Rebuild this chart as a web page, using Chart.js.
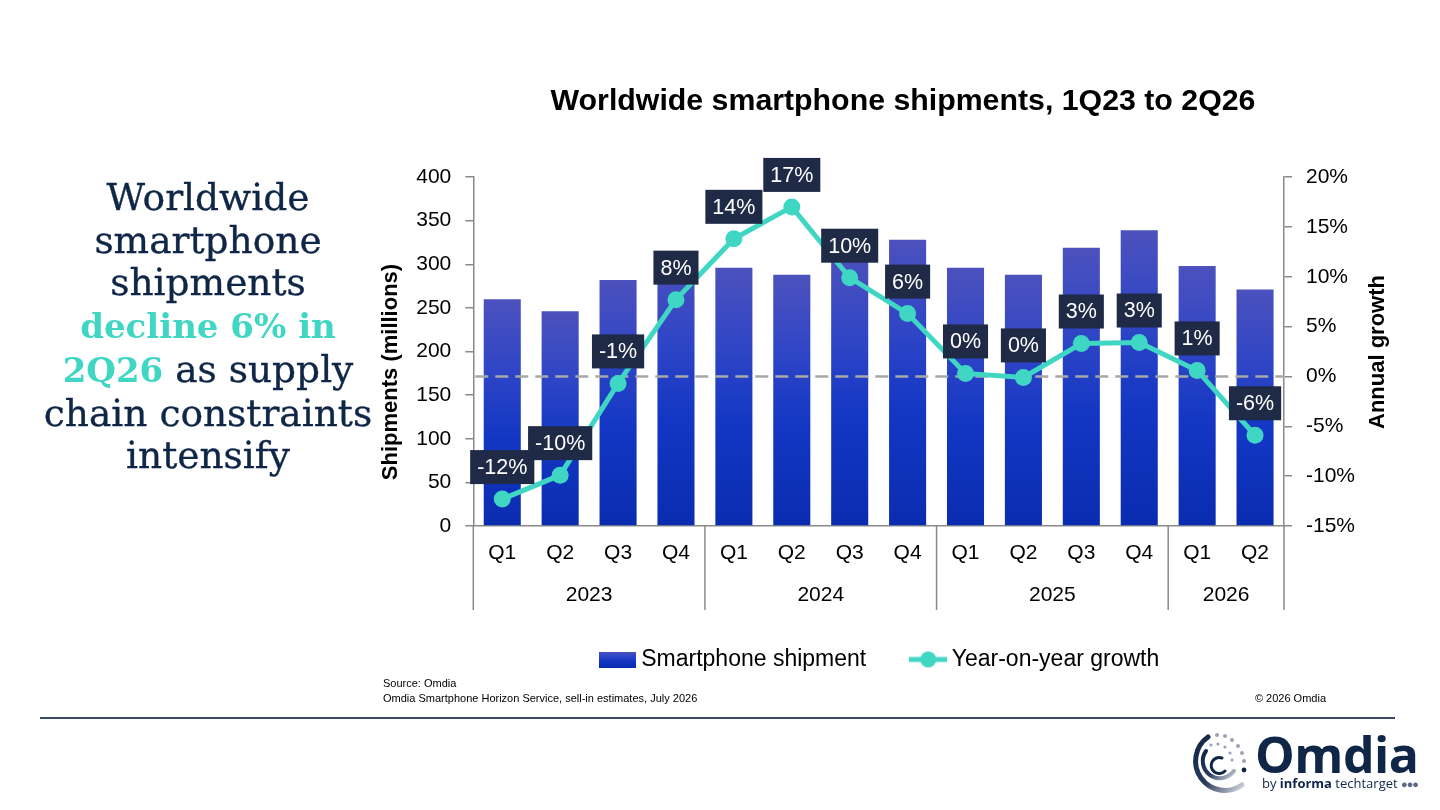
<!DOCTYPE html>
<html>
<head>
<meta charset="utf-8">
<title>Worldwide smartphone shipments, 1Q23 to 2Q26</title>
<script src="https://cdn.jsdelivr.net/npm/chart.js@4.4.1/dist/chart.umd.min.js"></script>
<style>
  html, body { margin:0; padding:0; background:#ffffff; width:1440px; height:810px; overflow:hidden; }
  body { position:relative; font-family:"Liberation Sans", Arial, sans-serif; }
  #chartBox { position:absolute; left:0; top:0; width:1440px; height:810px; }
  #title { position:absolute; left:503px; top:82px; width:800px; text-align:center; font-weight:bold; font-size:30.3px; line-height:36px; color:#000; }
  #headline { position:absolute; left:8px; top:176px; width:400px; text-align:center; font-family:"DejaVu Serif", serif; font-size:37.5px; line-height:42.7px; color:#0f2647; -webkit-text-stroke:0.35px #0f2647; }
  #headline .hl { color:#3fd6c4; font-weight:bold; font-size:34px; -webkit-text-stroke:0; }
  .src { position:absolute; font-size:11px; color:#000; line-height:14px; }
  #rule { position:absolute; left:40px; top:717px; width:1355px; height:2px; background:#3b4a68; }
  #logoText { position:absolute; left:1255px; top:724px; font-family:"Open Sans", sans-serif; font-weight:700; font-size:50px; line-height:60px; color:#0f2647; letter-spacing:-0.5px; }
  #logoSub { position:absolute; left:1262px; top:775px; font-family:"Open Sans", sans-serif; font-size:13px; line-height:16px; color:#0f2647; white-space:nowrap; }
  #logoSub b { font-weight:700; }
  #logoSub .dots { color:#5a6b8a; font-size:11px; letter-spacing:-1px; }
</style>
</head>
<body>
<div id="chartBox"><canvas id="c" width="1440" height="810"></canvas></div>

<div id="title">Worldwide smartphone shipments, 1Q23 to 2Q26</div>

<div id="headline">Worldwide<br>smartphone<br>shipments<br><span class="hl">decline 6% in<br>2Q26</span> as supply<br>chain constraints<br>intensify</div>

<div class="src" style="left:383px; top:676px;">Source: Omdia</div>
<div class="src" style="left:383px; top:691px;">Omdia Smartphone Horizon Service, sell-in estimates, July 2026</div>
<div class="src" style="left:1126px; top:691px; width:200px; text-align:right;">© 2026 Omdia</div>
<div id="rule"></div>

<svg style="position:absolute; left:1184px; top:731px;" width="70" height="68" viewBox="0 0 70 68">
  <defs>
    <linearGradient id="ringGrad" x1="0" y1="0" x2="1" y2="1">
      <stop offset="0" stop-color="#0f2647"/>
      <stop offset="0.55" stop-color="#2a3d5e"/>
      <stop offset="1" stop-color="#d4d8e0"/>
    </linearGradient>
  </defs>
  <path d="M 24 6 A 29 29 0 1 0 58 54" fill="none" stroke="url(#ringGrad)" stroke-width="5" stroke-linecap="round"/>
  <path d="M 22 20 A 16 16 0 1 0 50 40" fill="none" stroke="url(#ringGrad)" stroke-width="4" stroke-linecap="round"/>
  <path d="M 38 27 A 8 8 0 1 0 41 40" fill="none" stroke="#0f2647" stroke-width="3" stroke-linecap="round"/>
  <g fill="#9aa3b5">
    <circle cx="33" cy="4" r="2"/><circle cx="41" cy="5" r="2"/><circle cx="48" cy="9" r="2"/>
    <circle cx="54" cy="15" r="2"/><circle cx="58" cy="22" r="2"/><circle cx="60" cy="30" r="2"/>
    <circle cx="27" cy="14" r="1.6"/><circle cx="34" cy="13" r="1.6"/><circle cx="41" cy="16" r="1.6"/>
    <circle cx="46" cy="22" r="1.6"/><circle cx="48" cy="29" r="1.6"/>
  </g>
  <circle cx="60" cy="39" r="2.4" fill="#0f2647"/>
</svg>
<div id="logoText">Omdia</div>
<div id="logoSub">by <b>informa</b> techtarget <span class="dots">●●●</span></div>

<script>
// ---------------- data ----------------
const quarters = ['Q1','Q2','Q3','Q4','Q1','Q2','Q3','Q4','Q1','Q2','Q3','Q4','Q1','Q2'];
const years = ['2023','2024','2025','2026'];
const quartersPerYear = [4, 4, 4, 2];
const shipments = [260, 246, 282, 309, 296, 288, 310, 328, 296, 288, 319, 339, 298, 271];
const growth = [-12.3, -9.9, -0.7, 7.7, 13.8, 17.0, 9.9, 6.3, 0.3, -0.1, 3.3, 3.4, 0.6, -5.9];
const shipmentAxis = { min: 0, max: 400, step: 50 };
const growthAxis = { min: -15, max: 20, step: 5 };
const seriesNames = ['Smartphone shipment', 'Year-on-year growth'];
const axisTitles = ['Shipments (millions)', 'Annual growth'];

// ---------------- styles ----------------
const FONT = '"Liberation Sans", Arial, sans-serif';
const TEAL = '#3fd6c4';
const LABEL_BG = '#1f2b46';
const AXIS_GRAY = '#8a8a8a';

Chart.defaults.font.family = FONT;
Chart.defaults.color = '#000';

function barGradient(g) {
  g.addColorStop(0, '#4c51bd');
  g.addColorStop(0.3, '#3046c6');
  g.addColorStop(0.6, '#1337c4');
  g.addColorStop(1, '#0a2cb0');
  return g;
}

// legend swatches
const barSwatch = document.createElement('canvas');
barSwatch.width = 37; barSwatch.height = 16;
(function(){ const c = barSwatch.getContext('2d'); c.fillStyle = barGradient(c.createLinearGradient(0,0,0,16)); c.fillRect(0,0,37,16); })();
const lineSwatch = document.createElement('canvas');
lineSwatch.width = 38; lineSwatch.height = 18;
(function(){ const c = lineSwatch.getContext('2d'); c.strokeStyle = TEAL; c.lineWidth = 5; c.beginPath(); c.moveTo(0,9); c.lineTo(38,9); c.stroke(); c.fillStyle = TEAL; c.beginPath(); c.arc(19,9,8,0,Math.PI*2); c.fill(); })();

// zero reference line (above bars, below growth line)
const zeroLine = {
  id: 'zeroLine',
  afterDatasetDraw(chart, args) {
    if (args.index !== 0) return;
    const { ctx, chartArea, scales } = chart;
    const y = scales.y1.getPixelForValue(0);
    ctx.save();
    ctx.strokeStyle = '#a8a8a8';
    ctx.lineWidth = 2.5;
    ctx.setLineDash([13, 7]);
    ctx.beginPath();
    ctx.moveTo(chartArea.left + 2, y);
    ctx.lineTo(chartArea.right, y);
    ctx.stroke();
    ctx.restore();
  }
};

// growth value labels
const growthLabels = {
  id: 'growthLabels',
  afterDatasetsDraw(chart) {
    const { ctx } = chart;
    const meta = chart.getDatasetMeta(1);
    ctx.save();
    ctx.font = '21.5px ' + FONT;
    ctx.textAlign = 'center';
    ctx.textBaseline = 'middle';
    meta.data.forEach((pt, i) => {
      const txt = (Math.round(growth[i]) + 0) + '%';
      const w = ctx.measureText(txt).width + 14;
      const h = 34;
      const cx = pt.x, cy = pt.y - 32;
      ctx.fillStyle = LABEL_BG;
      ctx.fillRect(cx - w / 2, cy - h / 2, w, h);
      ctx.fillStyle = '#ffffff';
      ctx.fillText(txt, cx, cy + 1);
    });
    ctx.restore();
  }
};

// year groups, separators and axis titles
const axisExtras = {
  id: 'axisExtras',
  afterDraw(chart) {
    const { ctx, chartArea, scales } = chart;
    const x = scales.x;
    const step = x.getPixelForValue(1) - x.getPixelForValue(0);
    ctx.save();
    ctx.strokeStyle = AXIS_GRAY;
    ctx.lineWidth = 1.5;
    ctx.font = '21px ' + FONT;
    ctx.fillStyle = '#000';
    ctx.textAlign = 'center';
    ctx.textBaseline = 'middle';
    let start = 0;
    const bounds = [x.getPixelForValue(0) - step / 2];
    quartersPerYear.forEach((n, k) => {
      const x0 = x.getPixelForValue(start) - step / 2;
      const x1 = x.getPixelForValue(start + n - 1) + step / 2;
      bounds.push(x1);
      ctx.fillText(years[k], (x0 + x1) / 2, chartArea.bottom + 69);
      start += n;
    });
    bounds.forEach(bx => {
      ctx.beginPath();
      ctx.moveTo(bx, chartArea.bottom);
      ctx.lineTo(bx, chartArea.bottom + 84);
      ctx.stroke();
    });
    // axis titles
    ctx.font = 'bold 22px ' + FONT;
    ctx.save();
    ctx.translate(391, 372);
    ctx.rotate(-Math.PI / 2);
    ctx.fillText(axisTitles[0], 0, 0);
    ctx.restore();
    ctx.save();
    ctx.translate(1378, 352);
    ctx.rotate(-Math.PI / 2);
    ctx.fillText(axisTitles[1], 0, 0);
    ctx.restore();
    ctx.restore();
  }
};

new Chart(document.getElementById('c'), {
  data: {
    labels: quarters,
    datasets: [
      {
        type: 'bar',
        label: seriesNames[0],
        data: shipments,
        yAxisID: 'y',
        order: 2,
        barPercentage: 0.64,
        categoryPercentage: 1,
        borderWidth: 0,
        backgroundColor: (context) => {
          const chart = context.chart;
          const { chartArea, scales } = chart;
          if (!chartArea || context.type !== 'data' || !scales.y) return '#1a37bd';
          const top = scales.y.getPixelForValue(context.raw);
          const bottom = scales.y.getPixelForValue(0);
          if (!isFinite(top) || !isFinite(bottom) || top === bottom) return '#1a37bd';
          return barGradient(chart.ctx.createLinearGradient(0, top, 0, bottom));
        }
      },
      {
        type: 'line',
        label: seriesNames[1],
        data: growth,
        yAxisID: 'y1',
        order: 1,
        borderColor: TEAL,
        backgroundColor: TEAL,
        borderWidth: 5,
        pointRadius: 8.5,
        pointHoverRadius: 8.5,
        pointBackgroundColor: TEAL,
        pointBorderWidth: 0,
        tension: 0,
        fill: false
      }
    ]
  },
  options: {
    responsive: false,
    animation: false,
    events: [],
    layout: { padding: { left: 370, right: 45, top: 177, bottom: 129 } },
    plugins: {
      title: { display: false },
      tooltip: { enabled: false },
      legend: {
        display: true,
        position: 'bottom',
        labels: {
          usePointStyle: true,
          pointStyleWidth: 24,
          padding: 50,
          color: '#000',
          font: { size: 23 },
          generateLabels(chart) {
            const items = Chart.defaults.plugins.legend.labels.generateLabels(chart);
            items.sort((a, b) => a.datasetIndex - b.datasetIndex);
            items.forEach(it => { it.pointStyle = it.datasetIndex === 0 ? barSwatch : lineSwatch; it.lineWidth = 0; });
            return items;
          }
        }
      }
    },
    scales: {
      x: {
        type: 'category',
        offset: true,
        grid: { display: false, drawTicks: false },
        border: { display: true, color: AXIS_GRAY, width: 1.5 },
        ticks: { color: '#000', font: { size: 21 }, padding: 15, autoSkip: false, maxRotation: 0 },
        afterFit(s) { s.height = 72; }
      },
      y: {
        type: 'linear',
        position: 'left',
        min: shipmentAxis.min,
        max: shipmentAxis.max,
        ticks: { stepSize: shipmentAxis.step, color: '#000', font: { size: 21 }, padding: 14 },
        grid: { drawOnChartArea: false, drawTicks: true, tickLength: 8, color: AXIS_GRAY, lineWidth: 1.5 },
        border: { display: true, color: AXIS_GRAY, width: 1.5 },
        afterFit(s) { s.width = 103.3; }
      },
      y1: {
        type: 'linear',
        position: 'right',
        min: growthAxis.min,
        max: growthAxis.max,
        ticks: { stepSize: growthAxis.step, color: '#000', font: { size: 21 }, padding: 14, callback: v => v + '%' },
        grid: { drawOnChartArea: false, drawTicks: true, tickLength: 8, color: AXIS_GRAY, lineWidth: 1.5 },
        border: { display: true, color: AXIS_GRAY, width: 1.5 },
        afterFit(s) { s.width = 111; }
      }
    }
  },
  plugins: [zeroLine, growthLabels, axisExtras]
});
</script>
</body>
</html>
